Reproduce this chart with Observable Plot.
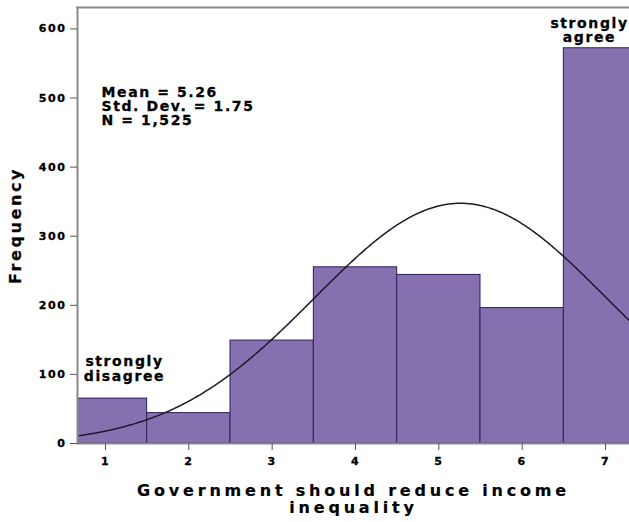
<!DOCTYPE html>
<html>
<head>
<meta charset="utf-8">
<script src="https://cdn.jsdelivr.net/npm/d3@7"></script>
<script src="https://cdn.jsdelivr.net/npm/@observablehq/plot@0.6"></script>
<style>
  body { margin: 0; background: #fff; }
  #chart svg { display: block; }
  #chart text { letter-spacing: 1.6px; stroke: #000; stroke-width: 0.3px; }
  #chart .title text { letter-spacing: 3.8px; stroke-width: 0.2px; }
  #chart .ytitle text { letter-spacing: 2.6px; stroke-width: 0.2px; }
</style>
</head>
<body>
<div id="chart"></div>
<script>
// Response categories (1 = strongly disagree … 7 = strongly agree)
const categories = [1, 2, 3, 4, 5, 6, 7];
// Number of respondents in each category
const frequencies = [65, 44, 149, 255, 244, 196, 572];
// Axis ticks
const yTicks = [0, 100, 200, 300, 400, 500, 600];
const xTicks = [1, 2, 3, 4, 5, 6, 7];
// Summary statistics shown in the corner and used for the normal curve
const mean = 5.26;
const stdDev = 1.75;
const total = 1525;
const statLines = ["Mean = 5.26", "Std. Dev. = 1.75", "N = 1,525"];
// Texts
const endLabels = ["strongly\ndisagree", "strongly\nagree"];
const xTitle = "Government should reduce income\ninequality";
const yTitle = "Frequency";

const xDomain = [0.664, 7.288];
const yDomain = [0, 631];

const bins = categories.map((c, i) => ({x1: c - 0.5, x2: c + 0.5, count: frequencies[i]}));

// Normal density scaled to counts (bin width 1)
const curve = d3.range(xDomain[0], xDomain[1] + 0.01, 0.01).map(x => ({
  x,
  y: total / (stdDev * Math.sqrt(2 * Math.PI)) * Math.exp(-0.5 * ((x - mean) / stdDev) ** 2)
}));

const chart = Plot.plot({
  width: 629,
  height: 522,
  marginLeft: 77,
  marginRight: 0,
  marginTop: 7,
  marginBottom: 79,
  style: {fontFamily: "DejaVu Sans, sans-serif", fontWeight: "bold", color: "#000", background: "#fff"},
  x: {domain: xDomain},
  y: {domain: yDomain},
  marks: [
    Plot.rectY(bins, {x1: "x1", x2: "x2", y: "count", fill: "#8671b0", stroke: "#2e1f5c", strokeWidth: 1, clip: true}),
    Plot.line(curve, {x: "x", y: "y", stroke: "#1c1a2b", strokeWidth: 1.5, clip: true}),
    Plot.ruleY([0], {stroke: "#8a8a8a", strokeWidth: 2}),
    Plot.frame({anchor: "top", stroke: "#8a8a8a", strokeWidth: 2}),
    Plot.frame({anchor: "left", stroke: "#8a8a8a", strokeWidth: 2}),
    Plot.axisY({ticks: yTicks, tickSize: 7, tickPadding: 4, fontSize: 11, label: null, stroke: "#555"}),
    Plot.axisX({ticks: xTicks, tickFormat: "d", tickSize: 7, tickPadding: 7, fontSize: 11, label: null, stroke: "#555"}),
    Plot.text([statLines.join("\n")], {
      frameAnchor: "top-left", dx: 24, dy: 80, textAnchor: "start", lineAnchor: "top",
      fontSize: 14, lineHeight: 0.98, fill: "#000"
    }),
    Plot.text([{x: categories[0], y: frequencies[0], t: endLabels[0]}], {
      x: "x", y: "y", text: "t", dx: 19, dy: -18, lineAnchor: "bottom",
      fontSize: 14, lineHeight: 1.05, fill: "#000"
    }),
    Plot.text([{x: categories[6], y: frequencies[6], t: endLabels[1]}], {
      x: "x", y: "y", text: "t", dx: -16, dy: -6, lineAnchor: "bottom",
      fontSize: 14, lineHeight: 1.05, fill: "#000"
    }),
    Plot.text([xTitle], {
      frameAnchor: "bottom", dy: 40, textAnchor: "middle", lineAnchor: "top", fontSize: 16, lineHeight: 1.06,
      fill: "#000", className: "title"
    }),
    Plot.text([yTitle], {
      frameAnchor: "left", dx: -62, textAnchor: "middle", rotate: -90, fontSize: 16, fill: "#000", className: "ytitle"
    })
  ]
});

document.getElementById("chart").appendChild(chart);
</script>
</body>
</html>
